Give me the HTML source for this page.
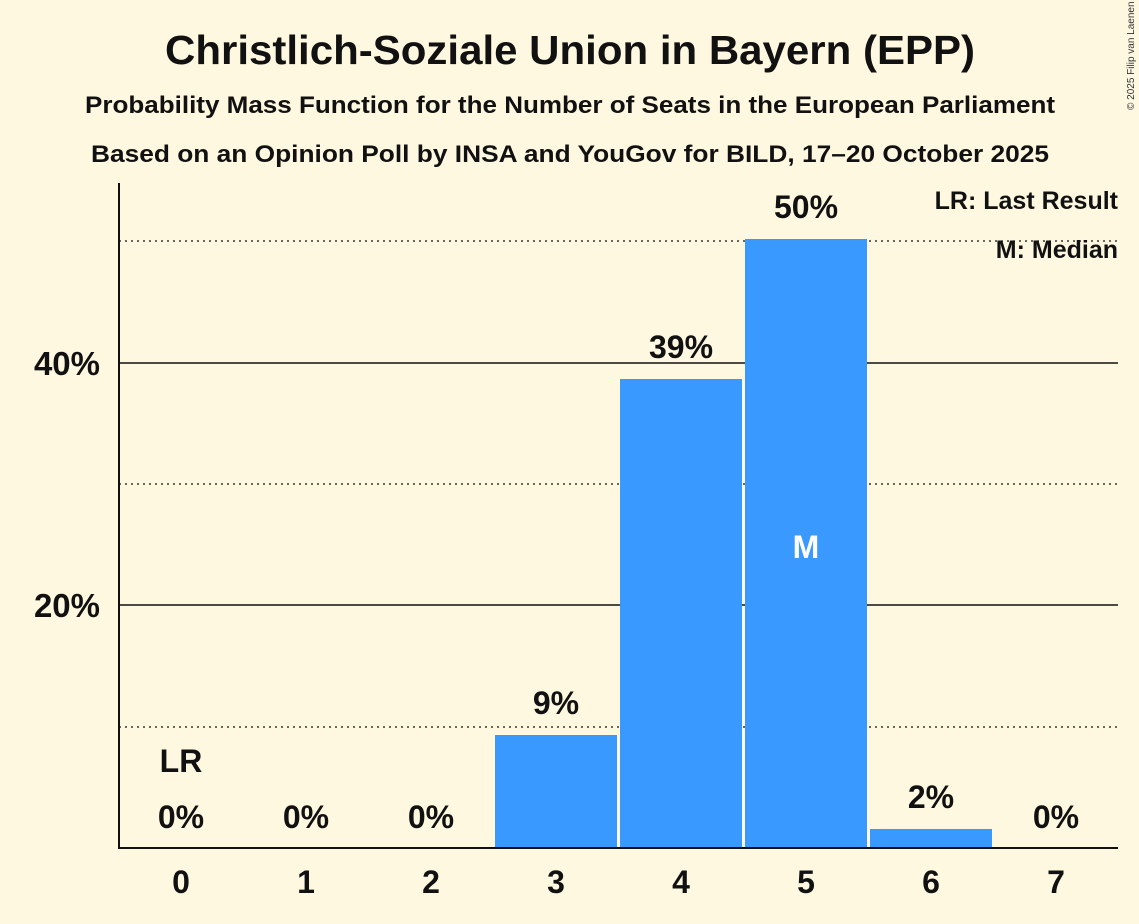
<!DOCTYPE html>
<html><head><meta charset="utf-8"><style>
html,body{margin:0;padding:0;background:#fff8e1;}
svg{display:block;font-family:"Liberation Sans",sans-serif;}
</style></head><body>
<svg width="1139" height="924" viewBox="0 0 1139 924">
<rect width="1139" height="924" fill="#fff8e1"/>
<text x="570" y="64" text-anchor="middle" font-size="41" font-weight="bold" fill="#111" textLength="810" lengthAdjust="spacingAndGlyphs">Christlich-Soziale Union in Bayern (EPP)</text>
<text x="570" y="113" text-anchor="middle" font-size="24" font-weight="bold" fill="#111" textLength="970" lengthAdjust="spacingAndGlyphs">Probability Mass Function for the Number of Seats in the European Parliament</text>
<text x="570" y="162" text-anchor="middle" font-size="24" font-weight="bold" fill="#111" textLength="958" lengthAdjust="spacingAndGlyphs">Based on an Opinion Poll by INSA and YouGov for BILD, 17–20 October 2025</text>
<text x="1134" y="110" font-size="10" fill="#333" transform="rotate(-90 1134 110)">© 2025 Filip van Laenen</text>
<g stroke="#111" stroke-width="1.3" stroke-dasharray="2,4">
<line x1="119" y1="727" x2="1118" y2="727"/><line x1="119" y1="484" x2="1118" y2="484"/><line x1="119" y1="241" x2="1118" y2="241"/>
</g>
<g stroke="#111" stroke-width="1.5">
<line x1="119" y1="605" x2="1118" y2="605"/><line x1="119" y1="363" x2="1118" y2="363"/>
</g>
<g fill="#3a99ff">
<rect x="495" y="735" width="122" height="113"/>
<rect x="620" y="379" width="122" height="469"/>
<rect x="745" y="239" width="122" height="609"/>
<rect x="870" y="829" width="122" height="19"/>
</g>
<line x1="119" y1="183" x2="119" y2="848" stroke="#111" stroke-width="2"/>
<line x1="118" y1="848" x2="1118" y2="848" stroke="#111" stroke-width="2"/>
<g font-size="33" font-weight="bold" fill="#111" text-anchor="end">
<text x="100" y="375">40%</text><text x="100" y="617">20%</text>
</g>
<g font-size="32" font-weight="bold" fill="#111" text-anchor="middle">
<text x="181" y="893">0</text><text x="306" y="893">1</text><text x="431" y="893">2</text><text x="556" y="893">3</text><text x="681" y="893">4</text><text x="806" y="893">5</text><text x="931" y="893">6</text><text x="1056" y="893">7</text>
</g>
<g font-size="32" font-weight="bold" fill="#111" text-anchor="middle">
<text x="181" y="828">0%</text><text x="306" y="828">0%</text><text x="431" y="828">0%</text><text x="556" y="714">9%</text><text x="681" y="358">39%</text><text x="806" y="218">50%</text><text x="931" y="808">2%</text><text x="1056" y="828">0%</text>
<text x="181" y="772">LR</text>
<text x="806" y="558" fill="#fff">M</text>
</g>
<g font-size="25" font-weight="bold" fill="#111" text-anchor="end">
<text x="1118" y="209">LR: Last Result</text><text x="1118" y="258">M: Median</text>
</g>
</svg>
</body></html>
